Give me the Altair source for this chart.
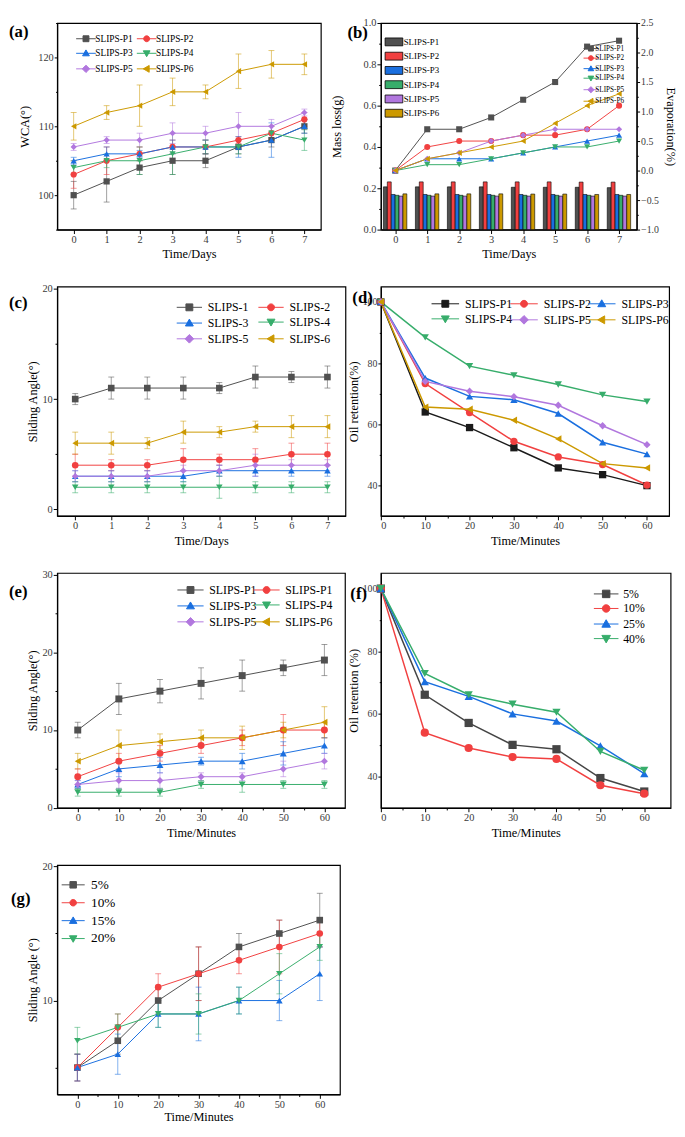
import altair as alt
import pandas as pd

FONT = "Liberation Serif"
C_GRAY, C_RED, C_BLUE, C_GREEN, C_PURPLE, C_GOLD = "#505050", "#F14040", "#1A6FDF", "#37AD6B", "#B177DE", "#CC9900"

# ---------------- data ----------------
days = [0, 1, 2, 3, 4, 5, 6, 7]
minutes = [0, 10, 20, 30, 40, 50, 60]

names_p = ["SLIPS-P1", "SLIPS-P2", "SLIPS-P3", "SLIPS-P4", "SLIPS-P5", "SLIPS-P6"]
names_c = ["SLIPS-1", "SLIPS-2", "SLIPS-3", "SLIPS-4", "SLIPS-5", "SLIPS-6"]
names_f = ["5%", "10%", "25%", "40%"]
names_g = ["5%", "10%", "15%", "20%"]

# (a) WCA
a_p1 = [100, 102, 104, 105, 105, 107, 108, 110]
a_p2 = [103, 105, 106, 107, 107, 108, 109, 111]
a_p3 = [105, 106, 106, 107, 107, 107, 108, 110]
a_p4 = [104, 105, 105, 106, 107, 107, 109, 108]
a_p5 = [107, 108, 108, 109, 109, 110, 110, 112]
a_p6 = [110, 112, 113, 115, 115, 118, 119, 119]
a_p1_err = [2, 3, 1, 2, 1, 1, 1, 1]
a_p2_err = [2, 2, 1, 1, 1, 0.5, 1, 1]
a_p3_err = [0.5, 1, 0.5, 1, 1, 1.5, 2.5, 1]
a_p4_err = [1, 1, 2, 3, 1, 1, 1, 1.5]
a_p5_err = [0.5, 0.5, 1, 1.5, 1, 2, 1, 0.5]
a_p6_err = [2, 1, 3, 2, 1, 2.5, 2, 1.5]

# (b) mass loss bars and evaporation lines
b_bar_p1 = [0.207, 0.207, 0.207, 0.207, 0.205, 0.205, 0.205, 0.203]
b_bar_p2 = [0.231, 0.231, 0.231, 0.231, 0.231, 0.231, 0.230, 0.230]
b_bar_p3 = [0.170, 0.170, 0.170, 0.170, 0.170, 0.170, 0.170, 0.170]
b_bar_p4 = [0.166, 0.166, 0.166, 0.166, 0.166, 0.166, 0.166, 0.166]
b_bar_p5 = [0.162, 0.162, 0.162, 0.162, 0.162, 0.162, 0.162, 0.162]
b_bar_p6 = [0.173, 0.173, 0.173, 0.173, 0.172, 0.172, 0.170, 0.170]
b_ev_p1 = [0, 0.7, 0.7, 0.9, 1.2, 1.5, 2.1, 2.2]
b_ev_p2 = [0, 0.4, 0.5, 0.5, 0.6, 0.6, 0.7, 1.1]
b_ev_p3 = [0, 0.2, 0.2, 0.2, 0.3, 0.4, 0.5, 0.6]
b_ev_p4 = [0, 0.1, 0.1, 0.2, 0.3, 0.4, 0.4, 0.5]
b_ev_p5 = [0, 0.2, 0.3, 0.5, 0.6, 0.7, 0.7, 0.7]
b_ev_p6 = [0, 0.2, 0.3, 0.4, 0.5, 0.8, 1.1, 1.3]

# (c) sliding angle vs days
c_1 = [10, 11, 11, 11, 11, 12, 12, 12]
c_2 = [4, 4, 4, 4.5, 4.5, 4.5, 5, 5]
c_3 = [3, 3, 3, 3, 3.5, 3.5, 3.5, 3.5]
c_4 = [2, 2, 2, 2, 2, 2, 2, 2]
c_5 = [3, 3, 3, 3.5, 3.5, 4, 4, 4]
c_6 = [6, 6, 6, 7, 7, 7.5, 7.5, 7.5]
c_1_err = [0.5, 1, 1, 1, 0.5, 1, 0.5, 1]
c_2_err = [1, 0.5, 0.5, 1, 0.5, 1, 1, 1]
c_3_err = [0.5, 0.5, 0.5, 0.5, 0.5, 0.5, 0.5, 0.5]
c_4_err = [0.5, 0.5, 0.5, 0.5, 1, 0.5, 0.5, 0.5]
c_5_err = [0.5, 0.5, 0.5, 0.5, 0.5, 1, 0.5, 0.5]
c_6_err = [1, 1, 0.5, 1, 0.5, 0.5, 1, 1]

# (d) oil retention vs minutes
d_p1 = [100, 64.0, 58.9, 52.3, 45.7, 43.5, 39.9]
d_p2 = [100, 73.3, 63.8, 54.4, 49.3, 46.8, 40.1]
d_p3 = [100, 75.1, 69.1, 68.0, 63.5, 54.1, 50.2]
d_p4 = [100, 88.4, 79.0, 76.0, 73.0, 69.6, 67.4]
d_p5 = [100, 74.0, 70.8, 69.0, 66.2, 59.5, 53.3]
d_p6 = [100, 65.6, 64.9, 61.3, 55.2, 47.1, 45.7]

# (e) sliding angle vs minutes
e_p1 = [10, 14, 15, 16, 17, 18, 19]
e_p2 = [4, 6, 7, 8, 9, 10, 10]
e_p3 = [3, 5, 5.5, 6, 6, 7, 8]
e_p4 = [2, 2, 2, 3, 3, 3, 3]
e_p5 = [3, 3.5, 3.5, 4, 4, 5, 6]
e_p6 = [6, 8, 8.5, 9, 9, 10, 11]
e_p1_err = [1, 2, 1.5, 2, 2, 1, 2]
e_p2_err = [1, 1, 1, 1, 1, 2, 1]
e_p3_err = [0.5, 1, 1, 0.5, 1, 1.5, 1]
e_p4_err = [0.5, 0.5, 0.5, 0.5, 1, 0.5, 0.5]
e_p5_err = [0.5, 1, 1, 0.5, 0.5, 1, 1]
e_p6_err = [1, 2, 1, 1, 1.5, 1, 2]

# (f) oil retention by concentration
f_5 = [100, 66.1, 57.1, 50.1, 48.7, 39.5, 35.2]
f_10 = [100, 54.0, 49.1, 46.2, 45.6, 37.2, 34.5]
f_25 = [100, 70.3, 65.6, 60.0, 57.7, 49.8, 40.9]
f_40 = [100, 72.9, 66.1, 63.1, 60.5, 48.0, 42.0]

# (g) sliding angle by concentration
g_5 = [5, 7, 10, 12, 14, 15, 16]
g_10 = [5, 8, 11, 12, 13, 14, 15]
g_15 = [5, 6, 9, 9, 10, 10, 12]
g_20 = [7, 8, 9, 9, 10, 12, 14]
g_5_err = [1, 1, 1, 2, 1, 1, 2]
g_10_err = [1, 1, 1, 2, 1, 2, 1]
g_15_err = [1, 1.5, 1, 2, 1, 1.5, 2]
g_20_err = [1, 1, 1, 1.5, 1, 1.5, 1]

panel_labels = ["(a)", "(b)", "(c)", "(d)", "(e)", "(f)", "(g)"]


# ---------------- helpers ----------------
def long_df(xs, names, vals, errs=None):
    rows = []
    for i, (n, v) in enumerate(zip(names, vals)):
        for j, x in enumerate(xs):
            r = {"x": x, "v": v[j], "s": n, "i": i}
            if errs is not None:
                r["lo"] = v[j] - errs[i][j]
                r["hi"] = v[j] + errs[i][j]
            rows.append(r)
    return pd.DataFrame(rows)


def f3(v):
    return f"{v:.3f}"


def combo_path(kind, line_px, mark_px, unit=4.0):
    L = line_px / unit
    m = mark_px / unit
    path = f"M{f3(-L)},0H{f3(L)}"
    if kind == "square":
        path += f"M{f3(-m)},{f3(-m)}H{f3(m)}V{f3(m)}H{f3(-m)}Z"
    elif kind == "circle":
        path += f"M{f3(m)},0A{f3(m)},{f3(m)} 0 1,1 {f3(-m)},0A{f3(m)},{f3(m)} 0 1,1 {f3(m)},0Z"
    elif kind == "triangle-up":
        path += f"M0,{f3(-1.15*m)}L{f3(1.15*m)},{f3(0.85*m)}L{f3(-1.15*m)},{f3(0.85*m)}Z"
    elif kind == "triangle-down":
        path += f"M0,{f3(1.15*m)}L{f3(1.15*m)},{f3(-0.85*m)}L{f3(-1.15*m)},{f3(-0.85*m)}Z"
    elif kind == "diamond":
        path += f"M0,{f3(-1.25*m)}L{f3(1.25*m)},0L0,{f3(1.25*m)}L{f3(-1.25*m)},0Z"
    elif kind == "triangle-left":
        path += f"M{f3(-1.15*m)},0L{f3(0.85*m)},{f3(-1.15*m)}L{f3(0.85*m)},{f3(1.15*m)}Z"
    return path


SHAPES6 = ["square", "circle", "triangle-up", "triangle-down", "diamond", "triangle-left"]
SHAPES4 = ["square", "circle", "triangle-up", "triangle-down"]


def minor_axis(title, values, major_test, fmt="d", orient=None, label_pad=1, title_pad=4,
               tick=4, label_size=10.5, title_size=12.5):
    kw = dict(
        title=title, values=values, grid=False,
        labelExpr=f"({major_test}) ? datum.label : ''",
        tickSize={"condition": {"test": f"!({major_test})", "value": tick * 0.55}, "value": tick},
        labelPadding=label_pad, titlePadding=title_pad, labelFontSize=label_size,
        labelOverlap=False, labelFont=FONT, labelColor="#3a3a3a",
        titleFont=FONT, titleFontSize=title_size, titleFontWeight="normal", titleColor="black",
        domainColor="black", domainWidth=1.2, tickColor="black", tickWidth=1,
        format=fmt,
    )
    if orient:
        kw["orient"] = orient
    return alt.Axis(**kw)


LEG_OFF = 17.0  # horizontal slot that Vega reserves before the legend label


def make_legend(x, y, font, row_pad, half_line, gap, label_expr=None, **extra):
    d = dict(orient="none", legendX=x, legendY=y, columns=1, title=None, padding=0,
             symbolSize=64, symbolStrokeWidth=1, labelFont=FONT, labelFontSize=font,
             labelColor="black", rowPadding=row_pad,
             symbolOffset=round(max(0.0, half_line - LEG_OFF / 2), 2),
             labelOffset=round(max(0.0, 2 * half_line + gap - LEG_OFF), 2),
             labelLimit=300)
    if label_expr:
        d["labelExpr"] = label_expr
    d.update(extra)
    return alt.Legend(**d)


def legend_layer(df, names, colors, paths, lg):
    return alt.Chart(df).transform_filter("false").mark_point(
        filled=True, opacity=1, strokeWidth=1, size=64
    ).encode(
        color=alt.Color("s:N", scale=alt.Scale(domain=names, range=colors), legend=lg),
        shape=alt.Shape("s:N", scale=alt.Scale(domain=names, range=paths), legend=lg),
        stroke=alt.Stroke("s:N", scale=alt.Scale(domain=names, range=colors), legend=lg),
    )


def legend_cols(df, names, colors, paths, x0, col_dx, y, font, row_pad, half_line, gap,
                label_expr=None):
    cols = len(col_dx)
    out = []
    for c, dx in enumerate(col_dx):
        lg = make_legend(x0 + dx, y, font, row_pad, half_line, gap, label_expr)
        out.append(legend_layer(df, names[c::cols], colors[c::cols], paths[c::cols], lg))
    return out


def label_layer(t, dx, dy):
    return alt.Chart(pd.DataFrame({"t": [t]})).mark_text(
        align="left", baseline="top", font=FONT, fontSize=17, fontWeight="bold", color="black"
    ).encode(text="t:N", x=alt.value(dx), y=alt.value(dy))


def line_layers(df, names, colors, shapes, xsc, xax, ysc, yax, msize, err=True, lw=1.0):
    x = alt.X("x:Q", scale=xsc, axis=xax)
    y = alt.Y("v:Q", scale=ysc, axis=yax)
    col = alt.Color("s:N", scale=alt.Scale(domain=names, range=colors), legend=None)
    base = alt.Chart(df)
    layers = []
    if err:
        ylo = alt.Y("lo:Q", scale=ysc, axis=yax)
        yhi = alt.Y("hi:Q", scale=ysc, axis=yax)
        layers.append(base.mark_rule(strokeWidth=1, opacity=0.55).encode(
            x=x, y=ylo, y2=alt.Y2("hi:Q"), color=col))
        layers.append(base.mark_tick(orient="horizontal", size=6, thickness=1, opacity=0.55).encode(
            x=x, y=ylo, color=col))
        layers.append(base.mark_tick(orient="horizontal", size=6, thickness=1, opacity=0.55).encode(
            x=x, y=yhi, color=col))
    layers.append(base.mark_line(strokeWidth=lw).encode(x=x, y=y, color=col))
    layers.append(base.mark_point(filled=True, opacity=1, size=msize).encode(
        x=x, y=y, color=col,
        shape=alt.Shape("s:N", scale=alt.Scale(domain=names, range=shapes), legend=None)))
    return layers


def line_panel(df, names, colors, shapes, xsc, xax, ysc, yax, W, H, legs, msize,
               label, ldx, ldy, err=True, lw=1.0):
    layers = line_layers(df, names, colors, shapes, xsc, xax, ysc, yax, msize, err, lw)
    layers += legs
    layers.append(label_layer(label, ldx, ldy))
    return alt.layer(*layers).resolve_scale(
        color="independent", shape="independent", stroke="independent"
    ).properties(width=W, height=H)


colors6 = [C_GRAY, C_RED, C_BLUE, C_GREEN, C_PURPLE, C_GOLD]

days_ticks = [0, 0.5, 1, 1.5, 2, 2.5, 3, 3.5, 4, 4.5, 5, 5.5, 6, 6.5, 7]
days_major = "datum.value % 1 == 0"
min_ticks = [0, 5, 10, 15, 20, 25, 30, 35, 40, 45, 50, 55, 60]
min_major = "datum.value % 10 == 0"

# ---------------- (a) ----------------
df_a = long_df(days, names_p, [a_p1, a_p2, a_p3, a_p4, a_p5, a_p6],
               [a_p1_err, a_p2_err, a_p3_err, a_p4_err, a_p5_err, a_p6_err])
paths_a = [combo_path(k, 10, 3) for k in SHAPES6]
panel_a = line_panel(
    df_a, names_p, colors6, SHAPES6,
    alt.Scale(domain=[-0.5, 7.5], nice=False, zero=False),
    minor_axis("Time/Days", days_ticks, days_major, title_pad=3),
    alt.Scale(domain=[95, 125], nice=False, zero=False),
    minor_axis("WCA(°)", [95, 100, 105, 110, 115, 120, 125], "datum.value % 10 == 0",
               label_pad=1, title_pad=6, tick=3),
    268, 210,
    legend_cols(df_a, names_p, colors6, paths_a, 23, [0, 61.7], 11.25, 9.5, 3.8, 10, 1.7),
    40, panel_labels[0], -49, 1,
)

# ---------------- (b) ----------------
df_bb = long_df(days, names_p, [b_bar_p1, b_bar_p2, b_bar_p3, b_bar_p4, b_bar_p5, b_bar_p6])
df_be = long_df(days, names_p, [b_ev_p1, b_ev_p2, b_ev_p3, b_ev_p4, b_ev_p5, b_ev_p6])
xsc_b = alt.Scale(domain=[-0.45, 7.55], nice=False, zero=False)
xax_b = minor_axis("Time/Days", days_ticks, days_major, title_pad=3)
rect_path = "M-2.25,-1H2.25V1H-2.25Z"
bars = alt.Chart(df_bb).transform_calculate(
    x0="datum.x - 0.37 + datum.i * 0.122",
    x1="datum.x - 0.37 + (datum.i + 1) * 0.122",
).mark_bar(stroke="black", strokeWidth=0.6).encode(
    x=alt.X("x0:Q", scale=xsc_b, axis=xax_b),
    x2=alt.X2("x1:Q"),
    y=alt.Y("v:Q", scale=alt.Scale(domain=[0, 1], nice=False),
            axis=minor_axis("Mass loss(g)", [0, 0.1, 0.2, 0.3, 0.4, 0.5, 0.6, 0.7, 0.8, 0.9, 1.0],
                            "round(datum.value * 10) % 2 == 0", fmt=".1f", title_pad=20)),
    y2=alt.datum(0),
    color=alt.Color("s:N", scale=alt.Scale(domain=names_p, range=colors6),
                    legend=make_legend(8.3, 14.7, 9, 1.5, 9, 4.4,
                                       symbolType=rect_path, symbolStrokeColor="black",
                                       symbolStrokeWidth=0.8)),
)
paths_b = [combo_path(k, 7.5, 2.5) for k in SHAPES6]
yax_b_r = minor_axis("Evaporation(%)", [-1, -0.75, -0.5, -0.25, 0, 0.25, 0.5, 0.75, 1, 1.25, 1.5,
                                        1.75, 2, 2.25, 2.5],
                     "round(datum.value * 4) % 2 == 0", fmt=".1f", orient="right", title_pad=5,
                     tick=3, label_size=10)
inner_b = alt.layer(
    *line_layers(df_be, names_p, colors6, SHAPES6, xsc_b, xax_b,
                 alt.Scale(domain=[-1, 2.5], nice=False, zero=False), yax_b_r, 38, err=False),
    *legend_cols(df_be, names_p, colors6, paths_b, 209, [0], 21.5, 7.3, 0.7, 7.5, 1.7),
).resolve_scale(color="independent", shape="independent", stroke="independent")
panel_b = alt.layer(bars, inner_b, label_layer(panel_labels[1], -34, 2)).resolve_scale(
    y="independent", color="independent", shape="independent", stroke="independent"
).properties(width=260, height=210)

# ---------------- (c) ----------------
df_c = long_df(days, names_c, [c_1, c_2, c_3, c_4, c_5, c_6],
               [c_1_err, c_2_err, c_3_err, c_4_err, c_5_err, c_6_err])
paths_c = [combo_path(k, 12.85, 3.5) for k in SHAPES6]
panel_c = line_panel(
    df_c, names_c, colors6, SHAPES6,
    alt.Scale(domain=[-0.5, 7.5], nice=False, zero=False),
    minor_axis("Time/Days", days_ticks, days_major),
    alt.Scale(domain=[-0.6, 20.2], nice=False, zero=False),
    minor_axis("Sliding Angle(°)", [0, 5, 10, 15, 20], "datum.value % 10 == 0", title_pad=3),
    293, 233,
    legend_cols(df_c, names_c, colors6, paths_c, 124, [0, 83], 15, 12, 3, 12.85, 4),
    45, panel_labels[2], -49, 9,
)

# ---------------- (d) ----------------
df_d = long_df(minutes, names_p, [d_p1, d_p2, d_p3, d_p4, d_p5, d_p6])
colors_d = ["#1a1a1a", C_RED, C_BLUE, C_GREEN, C_PURPLE, C_GOLD]
paths_d = [combo_path(k, 14, 3.5) for k in SHAPES6]
panel_d = line_panel(
    df_d, names_p, colors_d, SHAPES6,
    alt.Scale(domain=[0, 65], nice=False, zero=False),
    minor_axis("Time/Minutes", min_ticks, min_major),
    alt.Scale(domain=[30, 105], nice=False, zero=False),
    minor_axis("Oil retention(%)", [40, 50, 60, 70, 80, 90, 100], "datum.value % 20 == 0",
               title_pad=2, tick=3, label_size=10),
    293, 233,
    legend_cols(df_d, names_p, colors_d, paths_d, 54, [0, 80, 159], 11.4, 12, 3.3, 14, 3),
    55, panel_labels[3], -29, 4, err=False, lw=1.5,
)

# ---------------- (e) ----------------
df_e = long_df(minutes, names_p, [e_p1, e_p2, e_p3, e_p4, e_p5, e_p6],
               [e_p1_err, e_p2_err, e_p3_err, e_p4_err, e_p5_err, e_p6_err])
paths_e = [combo_path(k, 13.3, 3.5) for k in SHAPES6]
panel_e = line_panel(
    df_e, names_p, colors6, SHAPES6,
    alt.Scale(domain=[-5, 65], nice=False, zero=False),
    minor_axis("Time/Minutes", min_ticks, min_major),
    alt.Scale(domain=[0, 30.2], nice=False, zero=False),
    minor_axis("Sliding Angle(°)", [0, 5, 10, 15, 20, 25, 30], "datum.value % 10 == 0",
               title_pad=3),
    292.5, 238.7,
    legend_cols(df_e, names_p, colors6, paths_e, 124.7, [0, 77.3], 11.3, 12, 3.2, 13.3, 3.4,
                label_expr="datum.label == 'SLIPS-P2' ? 'SLIPS-P1' : datum.label"),
    50, panel_labels[4], -49, 11,
)

# ---------------- (f) ----------------
df_f = long_df(minutes, names_f, [f_5, f_10, f_25, f_40])
colors_f = ["#454545", C_RED, C_BLUE, C_GREEN]
paths_f = [combo_path(k, 12.5, 3.8) for k in SHAPES4]
panel_f = line_panel(
    df_f, names_f, colors_f, SHAPES4,
    alt.Scale(domain=[0, 66], nice=False, zero=False),
    minor_axis("Time/Minutes", min_ticks, min_major),
    alt.Scale(domain=[30, 105], nice=False, zero=False),
    minor_axis("Oil retention (%)", [40, 50, 60, 70, 80, 90, 100], "datum.value % 20 == 0",
               title_pad=2, tick=3, label_size=10),
    294.5, 238.7,
    legend_cols(df_f, names_f, colors_f, paths_f, 219, [0], 15.3, 12, 2.8, 12.5, 3.3),
    70, panel_labels[5], -31, 13, err=False, lw=1.5,
)

# ---------------- (g) ----------------
df_g = long_df(minutes, names_g, [g_5, g_10, g_15, g_20],
               [g_5_err, g_10_err, g_15_err, g_20_err])
paths_g = [combo_path(k, 11.7, 3.3) for k in SHAPES4]
panel_g = line_panel(
    df_g, names_g, colors6[:4], SHAPES4,
    alt.Scale(domain=[-5, 65], nice=False, zero=False),
    minor_axis("Time/Minutes", min_ticks, min_major, title_pad=1),
    alt.Scale(domain=[3, 20.1], nice=False, zero=False),
    minor_axis("Sliding Angle (°)", [5, 10, 15, 20], "datum.value % 10 == 0", title_pad=3),
    287.4, 233,
    legend_cols(df_g, names_g, colors6[:4], paths_g, 6.3, [0], 13.25, 13.5, 3.2, 11.7, 5),
    45, panel_labels[6], -47, 26,
)

# ---------------- layout ----------------
chart = alt.concat(
    panel_a, panel_b, panel_c, panel_d, panel_e, panel_f, panel_g,
    columns=2, bounds="flush", align="each", spacing={"row": 58, "column": 36},
).properties(
    padding=0, background="white"
).configure_view(
    stroke="black", strokeWidth=1.2
).configure_axis(
    labelFont=FONT, labelColor="#3a3a3a", titleFont=FONT, titleFontSize=12.5,
    titleFontWeight="normal", titleColor="black", domainColor="black", domainWidth=1.2,
    tickColor="black", tickWidth=1, grid=False,
).configure_legend(
    labelFont=FONT, labelColor="black"
)

chart.save("out.html", embed_options={"renderer": "svg", "actions": False})
